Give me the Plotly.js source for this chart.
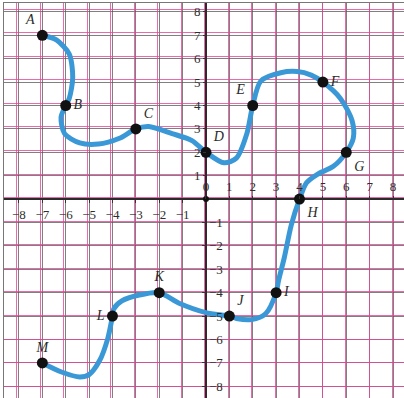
<!DOCTYPE html>
<html>
<head>
<meta charset="utf-8">
<script src="https://cdn.plot.ly/plotly-3.0.1.min.js"></script>
<style>html,body{margin:0;padding:0;background:#fff;}#chart{width:404px;height:398px;}</style>
</head>
<body>
<div id="chart"></div>
<script>
// Labeled points
const pointNames = ["A","B","C","D","E","F","G","H","I","J","K","L","M"];
const pointX = [-7, -6, -3, 0, 2, 5, 6, 4, 3, 1, -2, -4, -7];
const pointY = [7, 4, 3, 2, 4, 5, 2, 0, -4, -5, -4, -5, -7];

// Curve samples (A -> M)
const curveX = [-7, -6.4, -5.85, -5.7, -5.85, -6, -6.2, -6.05, -5.4, -4.6, -3.7, -3, -2.45, -1.45, -0.6, 0,
  0.77, 1.3, 1.75, 2, 2.35, 3.2, 3.9, 4.5, 5, 5.75, 6.25, 6.3, 6, 5.45, 4.75, 4.3, 4,
  3.65, 3.35, 3.1, 3, 2.55, 1.95, 1.3, 1, 0, -1.15, -2, -2.85, -3.6, -3.95, -4,
  -4.2, -4.55, -5, -5.4, -6.15, -7];
const curveY = [7, 6.8, 6.2, 5.2, 4.3, 4, 3.5, 2.8, 2.4, 2.35, 2.6, 3, 3.1, 2.8, 2.5, 2,
  1.55, 1.75, 2.8, 4, 5.05, 5.4, 5.45, 5.3, 5, 4.3, 3.35, 2.6, 2, 1.4, 1.05, 0.7, 0,
  -1.1, -2.5, -3.5, -4, -4.9, -5.15, -5.1, -5, -4.85, -4.45, -4, -4.1, -4.35, -4.7, -5,
  -5.95, -6.9, -7.5, -7.6, -7.4, -7];

// Origin dot
const originX = [0];
const originY = [0];

// Tick labels
const xNegTicks = [-8, -7, -6, -5, -4, -3, -2, -1];
const xPosTicks = [0, 1, 2, 3, 4, 5, 6, 7, 8];
const yPosTicks = [1, 2, 3, 4, 5, 6, 7, 8];
const yNegTicks = [-1, -2, -3, -4, -5, -6, -7, -8];

// Label placement (style)
const labelPos = ["top left","middle right","top right","top right","top left","middle right",
  "bottom right","bottom right","middle right","top right","top center","middle left","top center"];

const xr = [-8.64, 8.47], yr = [-8.5, 8.38];
const xrPink = [-8.55, 8.47], yrPink = [-8.5, 8.26];
const p0y = (0 - yr[0]) / (yr[1] - yr[0]);
const p0x = (0 - xr[0]) / (xr[1] - xr[0]);

const tickFont = {family: "Liberation Serif, serif", size: 13, color: "#2e2e2e"};

// empty traces so that the overlay axes get drawn
function holder(xa, ya) {
  return {x: [], y: [], mode: "markers", xaxis: xa, yaxis: ya, hoverinfo: "skip", showlegend: false};
}

const traces = [
  holder("x4", "y4"), holder("x2", "y"), holder("x3", "y"), holder("x", "y2"), holder("x", "y3"),
  {x: curveX, y: curveY, mode: "lines", line: {color: "#3b98d6", width: 5, shape: "spline", smoothing: 0.8},
   hoverinfo: "skip", xaxis: "x", yaxis: "y"},
  {x: pointX, y: pointY, mode: "markers+text", text: pointNames, textposition: labelPos,
   textfont: {family: "Liberation Serif, serif", size: 14, color: "#2a2a2a", style: "italic"},
   marker: {color: "#111", size: 11}, xaxis: "x", yaxis: "y"},
  {x: originX, y: originY, mode: "markers", marker: {color: "#111", size: 6}, xaxis: "x", yaxis: "y"}
];

const hidden = {showgrid: false, zeroline: false, showline: false};

const layout = {
  width: 404, height: 398,
  margin: {l: 4, r: 0, t: 3, b: 0, pad: 0},
  paper_bgcolor: "#fff", plot_bgcolor: "#fff",
  showlegend: false,
  xaxis: {range: xr, tick0: 0, dtick: 1, showgrid: true, gridcolor: "rgba(85,85,85,0.75)", gridwidth: 1,
    zeroline: true, zerolinecolor: "#2b2b2b", zerolinewidth: 1.5, showticklabels: false, ticks: "",
    showline: true, mirror: true, linecolor: "#777", linewidth: 1, fixedrange: true},
  yaxis: {range: yr, tick0: 0, dtick: 1, showgrid: true, gridcolor: "rgba(85,85,85,0.75)", gridwidth: 1,
    zeroline: true, zerolinecolor: "#2b2b2b", zerolinewidth: 1.5, showticklabels: false, ticks: "",
    showline: true, mirror: true, linecolor: "#777", linewidth: 1, fixedrange: true},
  xaxis4: {overlaying: "x", anchor: "y4", range: xrPink, tick0: 0, dtick: 1, showgrid: true,
    gridcolor: "rgba(226,70,150,0.8)", gridwidth: 1, showticklabels: false, ticks: "", fixedrange: true,
    zeroline: false, showline: false},
  yaxis4: {overlaying: "y", anchor: "x4", range: yrPink, tick0: 0, dtick: 1, showgrid: true,
    gridcolor: "rgba(226,70,150,0.8)", gridwidth: 1, showticklabels: false, ticks: "", fixedrange: true,
    zeroline: false, showline: false},
  xaxis2: Object.assign({overlaying: "x", anchor: "free", position: p0y, side: "bottom", range: xr,
    tickmode: "array", tickvals: xNegTicks, ticks: "outside", ticklen: 3, tickcolor: "#333",
    tickfont: tickFont, fixedrange: true}, hidden),
  xaxis3: Object.assign({overlaying: "x", anchor: "free", position: p0y, side: "top", range: xr,
    tickmode: "array", tickvals: xPosTicks, ticks: "outside", ticklen: 3, tickcolor: "#333",
    tickfont: tickFont, fixedrange: true}, hidden),
  yaxis2: Object.assign({overlaying: "y", anchor: "free", position: p0x, side: "left", range: yr,
    tickmode: "array", tickvals: yPosTicks, ticks: "outside", ticklen: 3, tickcolor: "#333",
    tickfont: tickFont, fixedrange: true}, hidden),
  yaxis3: Object.assign({overlaying: "y", anchor: "free", position: p0x, side: "right", range: yr,
    tickmode: "array", tickvals: yNegTicks, ticks: "inside", ticklen: 4, tickcolor: "#333",
    ticklabelstandoff: 2, tickfont: tickFont, fixedrange: true}, hidden)
};

Plotly.newPlot("chart", traces, layout, {displayModeBar: false, staticPlot: true});
</script>
</body>
</html>
